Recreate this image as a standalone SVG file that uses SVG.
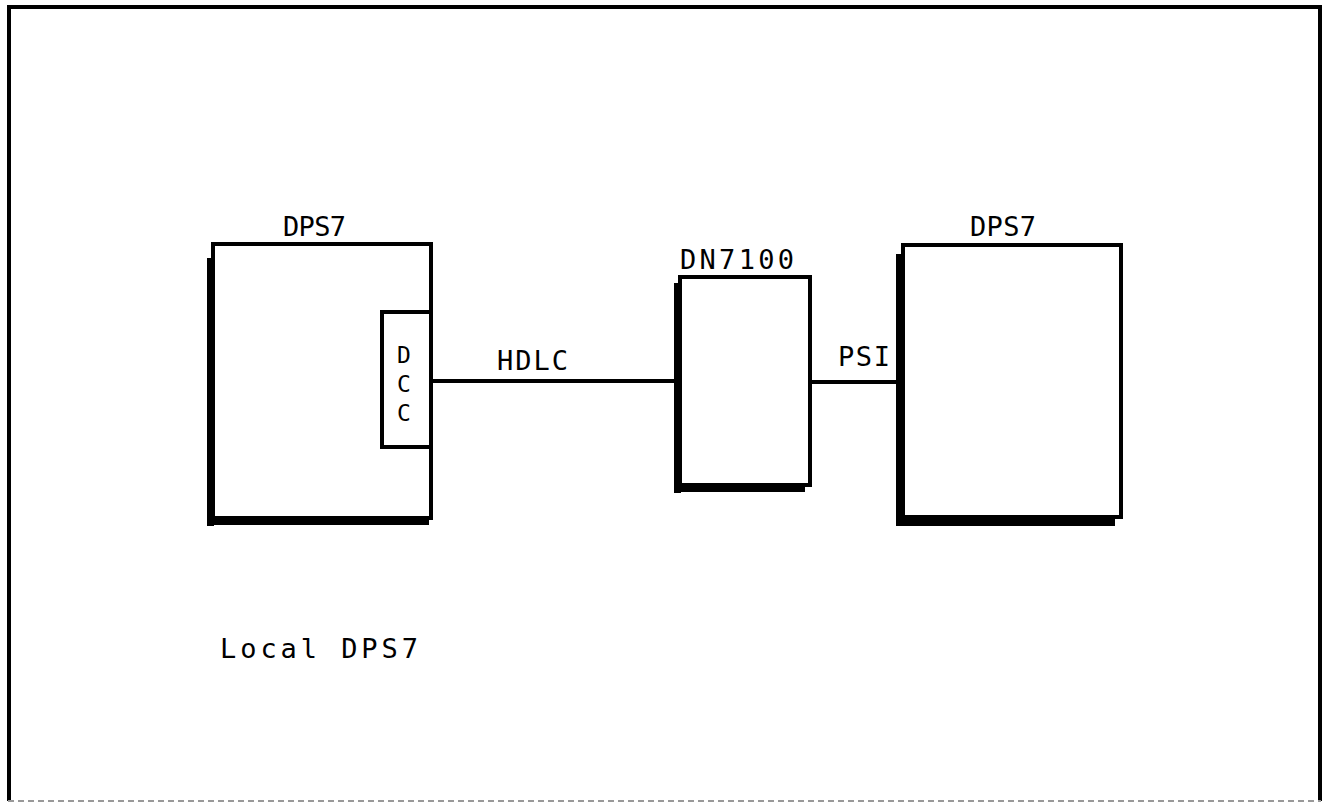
<svg xmlns="http://www.w3.org/2000/svg" width="1330" height="804" viewBox="0 0 1330 804">
<style>
.box{fill:#fff;stroke:#000;stroke-width:4}
.shadow{fill:#000}
.wire{stroke:#000;stroke-width:4;fill:none}
.frame{stroke:#000;stroke-width:4;fill:none}
text{font-family:"DejaVu Sans Mono","Liberation Mono",monospace;font-size:27px;fill:#000}
.dcc{font-size:23px}
</style>
<rect width="1330" height="804" fill="#fff"/>
<g id="frame">
<path class="frame" d="M9,801 V7 H1320 V801"/>
<line x1="8" y1="801" x2="1321" y2="801" stroke="#999" stroke-width="2" stroke-dasharray="6 4"/>
</g>
<g id="connectors">
<line class="wire" x1="431" y1="381" x2="675" y2="381"/>
<line class="wire" x1="810" y1="382" x2="898" y2="382"/>
<text x="497" y="370" textLength="71" lengthAdjust="spacing">HDLC</text>
<text x="838" y="366" textLength="52" lengthAdjust="spacing">PSI</text>
</g>
<g id="local-dps7">
<rect class="shadow" x="207" y="258" width="7" height="268"/>
<rect class="shadow" x="207" y="517" width="222" height="8"/>
<rect class="box" x="213" y="244" width="218" height="274"/>
<text x="283" y="236" textLength="63" lengthAdjust="spacing">DPS7</text>
</g>
<g id="dcc">
<rect class="box" x="382" y="312" width="49" height="135"/>
<text class="dcc" x="404" y="363" text-anchor="middle">D</text>
<text class="dcc" x="404" y="392" text-anchor="middle">C</text>
<text class="dcc" x="404" y="421" text-anchor="middle">C</text>
</g>
<g id="dn7100">
<rect class="shadow" x="674" y="283" width="7" height="210"/>
<rect class="shadow" x="674" y="484" width="131" height="8"/>
<rect class="box" x="680" y="277" width="130" height="208"/>
<text x="680" y="269" textLength="114" lengthAdjust="spacing">DN7100</text>
</g>
<g id="remote-dps7">
<rect class="shadow" x="896" y="254" width="8" height="272"/>
<rect class="shadow" x="896" y="517" width="219" height="9"/>
<rect class="box" x="903" y="245" width="218" height="272"/>
<text x="970" y="236" textLength="66" lengthAdjust="spacing">DPS7</text>
</g>
<g id="caption">
<text x="220" y="658" textLength="198" lengthAdjust="spacing">Local DPS7</text>
</g>
</svg>
